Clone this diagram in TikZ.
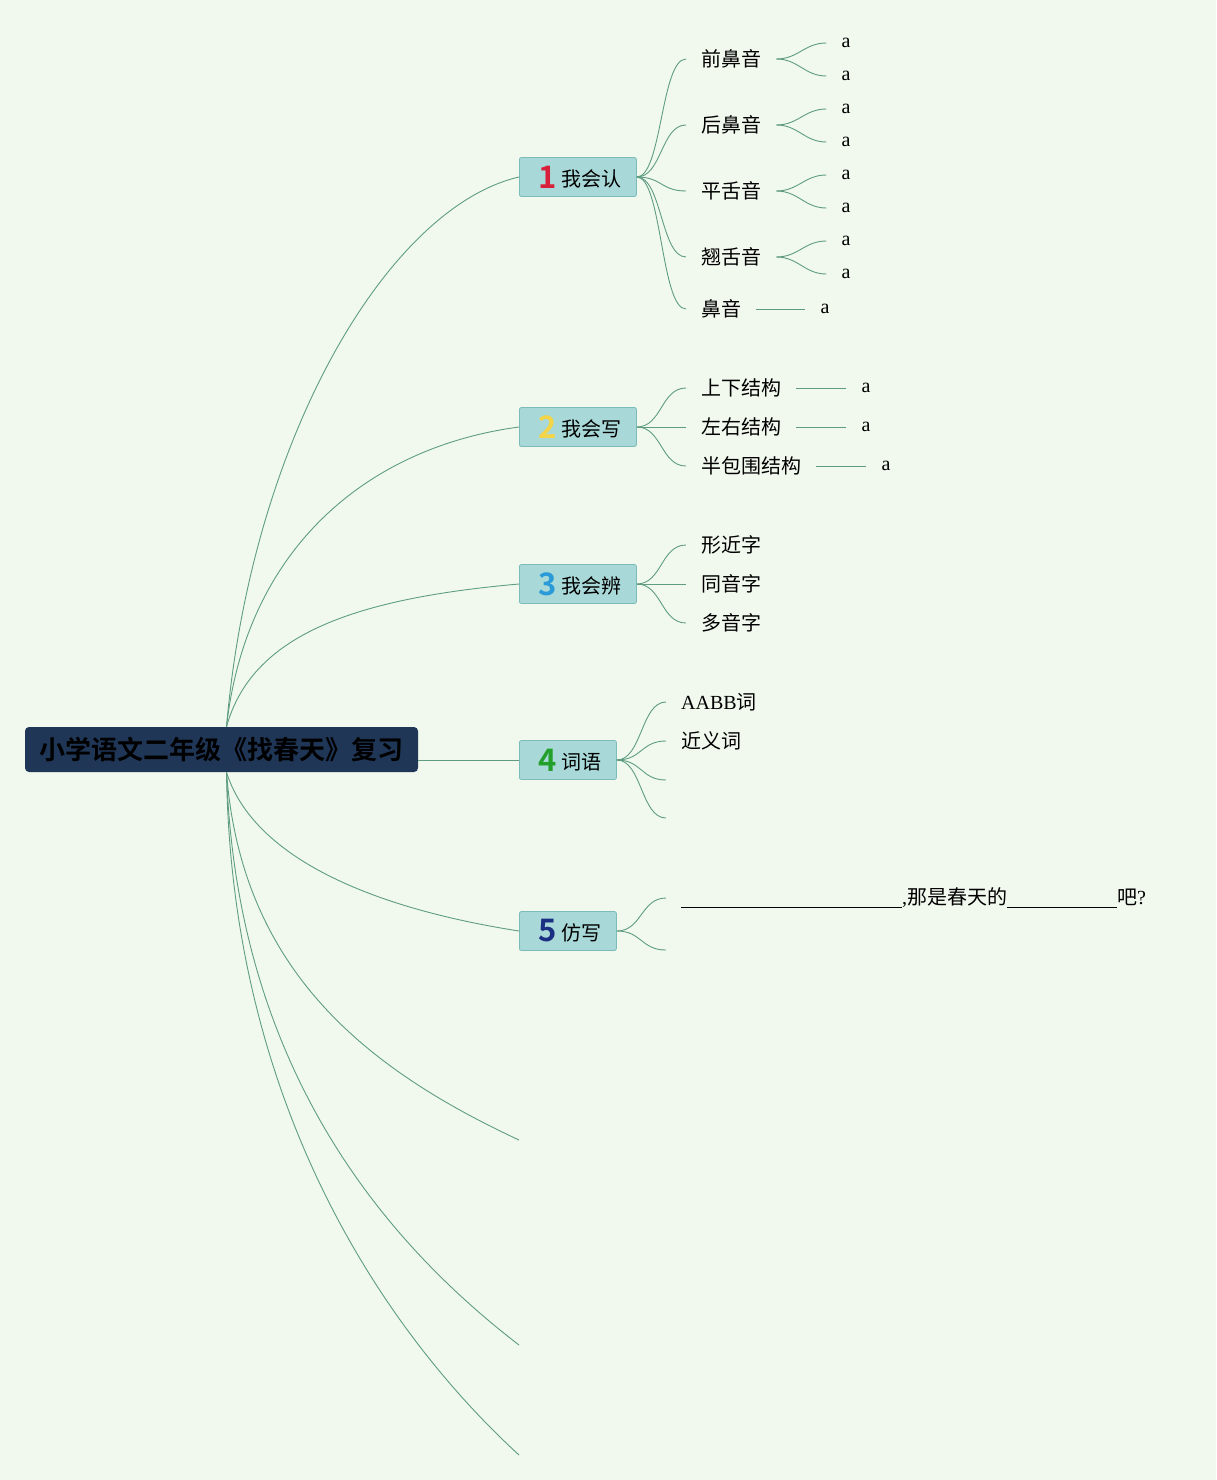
\documentclass[tikz,border=0pt]{standalone}
\usepackage{fontspec}
\setmainfont{Liberation Serif}
\newfontfamily\cjk{Noto Sans CJK SC}[BoldFont=Noto Sans CJK SC Bold]
\usetikzlibrary{positioning,calc}
\definecolor{bgcol}{HTML}{F1F9EF}
\definecolor{linkgreen}{HTML}{5F9C82}
\definecolor{rootfill}{HTML}{1F3657}
\definecolor{topicfill}{HTML}{A8D8D7}
\definecolor{topicline}{HTML}{7DBBB8}
\definecolor{numa}{HTML}{D8203A}
\definecolor{numb}{HTML}{F4D548}
\definecolor{numc}{HTML}{2A9BD8}
\definecolor{numd}{HTML}{23A02B}
\definecolor{nume}{HTML}{1B2F82}
\newcommand{\topicnum}[3]{\hspace{4pt}{\cjk\bfseries\fontsize{31}{31}\selectfont\color{#1}#2}\hspace{5pt}\raisebox{1.5pt}{#3}}

\begin{document}
\begin{tikzpicture}[
  x=1pt, y=-1pt,
  link/.style={draw=linkgreen, line width=0.9pt},
  rootbox/.style={rectangle, rounded corners=4pt, fill=rootfill, minimum width=393pt, minimum height=45pt, inner sep=0pt, font=\cjk\bfseries\fontsize{26}{30}\selectfont},
  topic/.style={rectangle, rounded corners=2pt, draw=topicline, fill=topicfill, line width=0.8pt, anchor=west, minimum height=39pt, inner xsep=14pt, inner ysep=0pt, font=\cjk\fontsize{20}{24}\selectfont},
  leaf/.style={anchor=west, inner xsep=15pt, inner ysep=2pt, font=\cjk\fontsize{20}{24}\selectfont},
  tip/.style={anchor=west, inner xsep=15pt, inner ysep=2pt, font=\fontsize{20}{24}\selectfont}
]
  \fill[bgcol] (0,0) rectangle (1216,1480);
  \useasboundingbox (0,0) rectangle (1216,1480);

  % root and main topics
  \node[rootbox] (root) at (221.5,749.5) {小学语文二年级《找春天》复习};
  \node[topic, minimum width=117pt] (b1) at (519,177) {\topicnum{numa}{1}{我会认}};
  \node[topic, minimum width=117pt] (b2) at (519,427) {\topicnum{numb}{2}{我会写}};
  \node[topic, minimum width=117pt] (b3) at (519,584) {\topicnum{numc}{3}{我会辨}};
  \node[topic, minimum width=97pt] (b4) at (519,760) {\topicnum{numd}{4}{词语}};
  \node[topic, minimum width=97pt] (b5) at (519,931) {\topicnum{nume}{5}{仿写}};
  \coordinate (e6) at (519,1140);
  \coordinate (e7) at (519,1345);
  \coordinate (e8) at (519,1455);

  \coordinate (rt) at ([xshift=5pt]root.north);
  \coordinate (rb) at ([xshift=5pt]root.south);

  \draw[link] (rt) .. controls +(25,-290) and +(-130,30) .. (b1.west);
  \draw[link] (rt) .. controls +(20,-180) and +(-150,20) .. (b2.west);
  \draw[link] (rt) .. controls +(25,-90) and +(-170,15) .. (b3.west);
  \draw[link] (root.east |- b4.west) -- (b4.west);
  \draw[link] (rb) .. controls +(25,80) and +(-160,-25) .. (b5.west);
  \draw[link] (rb) .. controls +(15,200) and +(-150,-70) .. (e6);
  \draw[link] (rb) .. controls +(10,300) and +(-130,-100) .. (e7);
  \draw[link] (rb) .. controls +(5,350) and +(-120,-110) .. (e8);

  % 我会认
  \node[leaf] (l11) at (686,59) {前鼻音};
  \node[leaf] (l12) at (686,125) {后鼻音};
  \node[leaf] (l13) at (686,191) {平舌音};
  \node[leaf] (l14) at (686,257) {翘舌音};
  \node[leaf] (l15) at (686,309) {鼻音};
  \foreach \n in {l11,l12,l13,l14,l15}
    \draw[link] (b1.east) .. controls +(25,0) and +(-25,0) .. (\n.west);
  \foreach \n in {l11,l12,l13,l14}{
    \node[tip] (\n a) at ($(\n.east)+(50,-16)$) {a};
    \node[tip] (\n b) at ($(\n.east)+(50,17)$) {a};
    \draw[link] (\n.east) .. controls +(22,0) and +(-22,0) .. (\n a.west);
    \draw[link] (\n.east) .. controls +(22,0) and +(-22,0) .. (\n b.west);
  }
  \node[tip, right=49pt of l15] (l15a) {a};
  \draw[link] (l15) -- (l15a);

  % 我会写
  \node[leaf] (l21) at (686,388) {上下结构};
  \node[leaf] (l22) at (686,427) {左右结构};
  \node[leaf] (l23) at (686,466) {半包围结构};
  \foreach \n in {l21,l22,l23}{
    \draw[link] (b2.east) .. controls +(25,0) and +(-25,0) .. (\n.west);
    \node[tip, right=50pt of \n] (\n a) {a};
    \draw[link] (\n) -- (\n a);
  }

  % 我会辨
  \node[leaf] (l31) at (686,545) {形近字};
  \node[leaf] (l32) at (686,584) {同音字};
  \node[leaf] (l33) at (686,623) {多音字};
  \foreach \n in {l31,l32,l33}
    \draw[link] (b3.east) .. controls +(25,0) and +(-25,0) .. (\n.west);

  % 词语
  \node[leaf] (l41) at (666,702) {{\rmfamily AABB}词};
  \node[leaf] (l42) at (666,741) {近义词};
  \coordinate (l43) at (666,780);
  \coordinate (l44) at (666,818);
  \foreach \n in {l41,l42}
    \draw[link] (b4.east) .. controls +(25,0) and +(-25,0) .. (\n.west);
  \foreach \n in {l43,l44}
    \draw[link] (b4.east) .. controls +(25,0) and +(-25,0) .. (\n);

  % 仿写
  \node[leaf] (l51) at (666,898) {\rule[-3pt]{221pt}{0.8pt}{\rmfamily,}那是春天的\rule[-3pt]{110pt}{0.8pt}吧{\rmfamily ?}};
  \coordinate (l52) at (666,950);
  \draw[link] (b5.east) .. controls +(25,0) and +(-25,0) .. (l51.west);
  \draw[link] (b5.east) .. controls +(25,0) and +(-25,0) .. (l52);
\end{tikzpicture}
\end{document}
